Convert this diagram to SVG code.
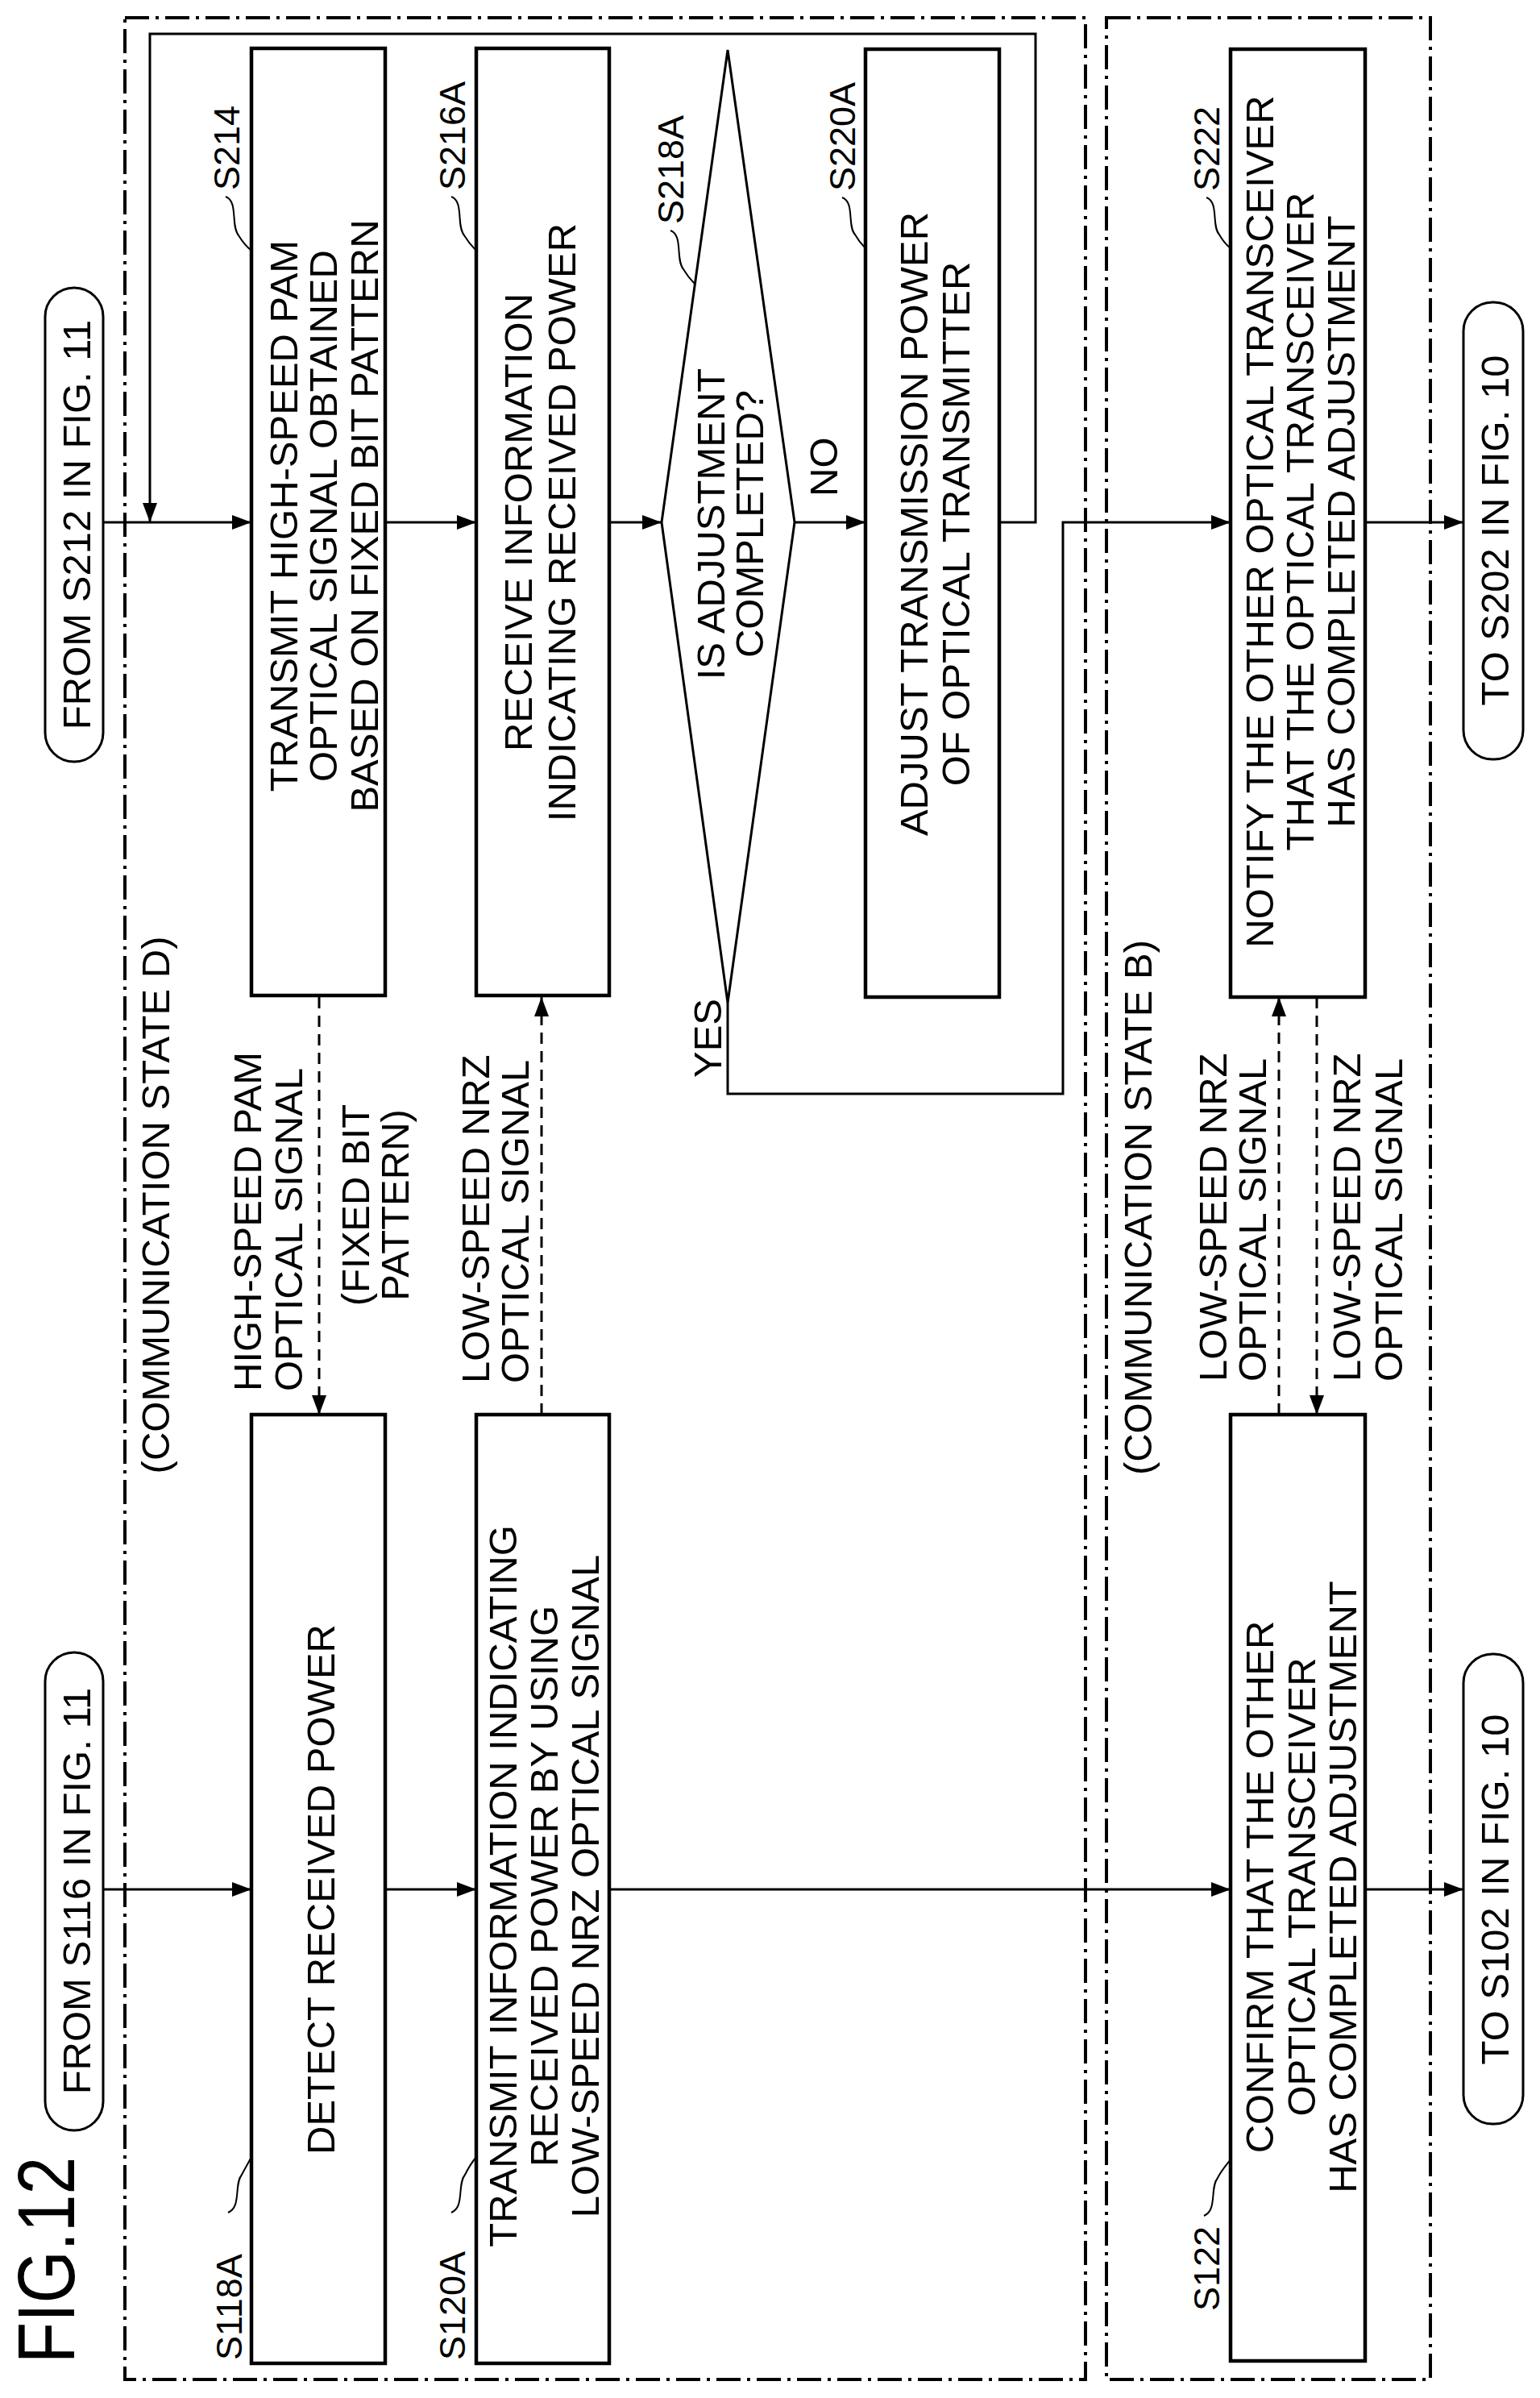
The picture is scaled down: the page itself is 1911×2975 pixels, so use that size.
<svg xmlns="http://www.w3.org/2000/svg" width="1911" height="2975" viewBox="0 0 1911 2975">
<style>
text{font-family:"Liberation Sans",Arial,sans-serif;fill:#000}
.t{font-size:49px;text-anchor:middle}
.l{font-size:45px;text-anchor:start}
.s{font-size:49px;text-anchor:start}
.box{fill:#fff;stroke:#000;stroke-width:4.5}
.pill{fill:#fff;stroke:#000;stroke-width:3}
.grp{fill:none;stroke:#000;stroke-width:4;stroke-dasharray:30 8 4 8}
.c{fill:none;stroke:#000;stroke-width:3}
.d{fill:none;stroke:#000;stroke-width:3;stroke-dasharray:14 9}
.ld{fill:none;stroke:#000;stroke-width:2}
</style>
<defs>
<marker id="a" markerUnits="userSpaceOnUse" markerWidth="24" markerHeight="18" refX="24" refY="9" orient="auto"><path d="M0,0 L24,9 L0,18 Z" fill="#000"/></marker>
</defs>
<rect width="1911" height="2975" fill="#fff"/>
<g id="groups">
<rect class="grp" x="155" y="22" width="1192" height="2930"/>
<rect class="grp" x="1373" y="22" width="402" height="2930"/>
</g>
<text transform="translate(92,2932) rotate(-90)" style="font-size:100px" textLength="256" lengthAdjust="spacingAndGlyphs">FIG.12</text>
<text class="t" transform="translate(210,1495) rotate(-90)">(COMMUNICATION STATE D)</text>
<text class="t" transform="translate(1429,1498) rotate(-90)">(COMMUNICATION STATE B)</text>
<g id="connectors">
<path class="c" d="M128,648 H312" marker-end="url(#a)"/>
<path class="c" d="M1240,648 H1285 V42 H186 V648" marker-end="url(#a)"/>
<path class="c" d="M478,648 H591" marker-end="url(#a)"/>
<path class="c" d="M756,648 H821" marker-end="url(#a)"/>
<path class="c" d="M986,648 H1074" marker-end="url(#a)"/>
<path class="c" d="M903,1244 V1357 H1319 V648 H1527" marker-end="url(#a)"/>
<path class="c" d="M1694,648 H1816" marker-end="url(#a)"/>
<path class="c" d="M128,2344 H312" marker-end="url(#a)"/>
<path class="c" d="M478,2344 H591" marker-end="url(#a)"/>
<path class="c" d="M756,2344 H1527" marker-end="url(#a)"/>
<path class="c" d="M1694,2344 H1816" marker-end="url(#a)"/>
<path class="d" d="M396,1237 V1755" marker-end="url(#a)"/>
<path class="d" d="M672,1755 V1237" marker-end="url(#a)"/>
<path class="d" d="M1587,1755 V1237" marker-end="url(#a)"/>
<path class="d" d="M1634,1237 V1755" marker-end="url(#a)"/>
<text class="s" transform="translate(1039,616) rotate(-90)">NO</text>
<text class="s" transform="translate(895,1337) rotate(-90)">YES</text>
<text class="s" transform="translate(324,1726) rotate(-90)">HIGH-SPEED PAM</text>
<text class="s" transform="translate(375,1726) rotate(-90)">OPTICAL SIGNAL</text>
<text class="t" transform="translate(458,1495) rotate(-90)">(FIXED BIT</text>
<text class="t" transform="translate(507,1495) rotate(-90)">PATTERN)</text>
<text class="s" transform="translate(607,1716) rotate(-90)">LOW-SPEED NRZ</text>
<text class="s" transform="translate(656,1716) rotate(-90)">OPTICAL SIGNAL</text>
<text class="s" transform="translate(1522,1714) rotate(-90)">LOW-SPEED NRZ</text>
<text class="s" transform="translate(1571,1714) rotate(-90)">OPTICAL SIGNAL</text>
<text class="s" transform="translate(1688,1714) rotate(-90)">LOW-SPEED NRZ</text>
<text class="s" transform="translate(1740,1714) rotate(-90)">OPTICAL SIGNAL</text>
</g>
<g id="from-s212">
<rect class="pill" x="56" y="357" width="72" height="588" rx="36" ry="36"/>
<text class="t" transform="translate(112,651) rotate(-90)">FROM S212 IN FIG. 11</text>
</g>
<g id="from-s116">
<rect class="pill" x="56" y="2050" width="72" height="593" rx="36" ry="36"/>
<text class="t" transform="translate(112,2346) rotate(-90)">FROM S116 IN FIG. 11</text>
</g>
<g id="to-s202">
<rect class="pill" x="1816" y="375" width="74" height="567" rx="36" ry="36"/>
<text class="t" transform="translate(1872,658) rotate(-90)">TO S202 IN FIG. 10</text>
</g>
<g id="to-s102">
<rect class="pill" x="1816" y="2052" width="74" height="583" rx="36" ry="36"/>
<text class="t" transform="translate(1872,2344) rotate(-90)">TO S102 IN FIG. 10</text>
</g>
<g id="s214">
<rect class="box" x="312" y="60" width="166" height="1175"/>
<text class="t" transform="translate(369,640) rotate(-90)">TRANSMIT HIGH-SPEED PAM</text>
<text class="t" transform="translate(418,640) rotate(-90)">OPTICAL SIGNAL OBTAINED</text>
<text class="t" transform="translate(469,640) rotate(-90)">BASED ON FIXED BIT PATTERN</text>
<text class="l" transform="translate(297,236) rotate(-90)">S214</text>
<path class="ld" d="M280,244 C296,250 286,280 296,292 C302,302 306,306 312,311"/>
</g>
<g id="s216a">
<rect class="box" x="591" y="60" width="165" height="1175"/>
<text class="t" transform="translate(660,648) rotate(-90)">RECEIVE INFORMATION</text>
<text class="t" transform="translate(714,648) rotate(-90)">INDICATING RECEIVED POWER</text>
<text class="l" transform="translate(577,236) rotate(-90)">S216A</text>
<path class="ld" d="M560,244 C576,250 566,280 576,292 C582,302 586,306 591,311"/>
</g>
<g id="s218a">
<polygon points="903,62 986,648 903,1244 821,648" fill="#fff" stroke="#000" stroke-width="3"/>
<text class="t" transform="translate(899,650) rotate(-90)">IS ADJUSTMENT</text>
<text class="t" transform="translate(947,650) rotate(-90)">COMPLETED?</text>
<text class="l" transform="translate(848,278) rotate(-90)">S218A</text>
<path class="ld" d="M832,286 C848,292 838,322 848,334 C854,344 858,348 862,352"/>
</g>
<g id="s220a">
<rect class="box" x="1074" y="61" width="166" height="1176"/>
<text class="t" transform="translate(1151,650) rotate(-90)">ADJUST TRANSMISSION POWER</text>
<text class="t" transform="translate(1203,650) rotate(-90)">OF OPTICAL TRANSMITTER</text>
<text class="l" transform="translate(1061,237) rotate(-90)">S220A</text>
<path class="ld" d="M1045,245 C1061,251 1051,280 1061,291 C1066,300 1070,304 1074,308"/>
</g>
<g id="s222">
<rect class="box" x="1527" y="61" width="167" height="1176"/>
<text class="t" transform="translate(1580,647) rotate(-90)">NOTIFY THE OTHER OPTICAL TRANSCEIVER</text>
<text class="t" transform="translate(1630,647) rotate(-90)">THAT THE OPTICAL TRANSCEIVER</text>
<text class="t" transform="translate(1681,647) rotate(-90)">HAS COMPLETED ADJUSTMENT</text>
<text class="l" transform="translate(1513,237) rotate(-90)">S222</text>
<path class="ld" d="M1497,245 C1513,251 1503,280 1513,291 C1518,300 1522,304 1527,308"/>
</g>
<g id="s118a">
<rect class="box" x="312" y="1755" width="166" height="1177"/>
<text class="t" transform="translate(415,2344) rotate(-90)">DETECT RECEIVED POWER</text>
<text class="l" transform="translate(300,2928) rotate(-90)">S118A</text>
<path class="ld" d="M283,2745 C300,2738 290,2710 300,2698 C305,2688 309,2682 312,2676"/>
</g>
<g id="s120a">
<rect class="box" x="591" y="1755" width="165" height="1177"/>
<text class="t" transform="translate(641,2340) rotate(-90)">TRANSMIT INFORMATION INDICATING</text>
<text class="t" transform="translate(692,2340) rotate(-90)">RECEIVED POWER BY USING</text>
<text class="t" transform="translate(743,2340) rotate(-90)">LOW-SPEED NRZ OPTICAL SIGNAL</text>
<text class="l" transform="translate(577,2928) rotate(-90)">S120A</text>
<path class="ld" d="M560,2745 C577,2738 567,2710 577,2698 C582,2688 586,2682 591,2676"/>
</g>
<g id="s122">
<rect class="box" x="1527" y="1755" width="167" height="1174"/>
<text class="t" transform="translate(1580,2341) rotate(-90)">CONFIRM THAT THE OTHER</text>
<text class="t" transform="translate(1632,2341) rotate(-90)">OPTICAL TRANSCEIVER</text>
<text class="t" transform="translate(1683,2341) rotate(-90)">HAS COMPLETED ADJUSTMENT</text>
<text class="l" transform="translate(1513,2867) rotate(-90)">S122</text>
<path class="ld" d="M1494,2749 C1511,2742 1501,2714 1511,2702 C1516,2692 1522,2686 1527,2679"/>
</g>
</svg>
